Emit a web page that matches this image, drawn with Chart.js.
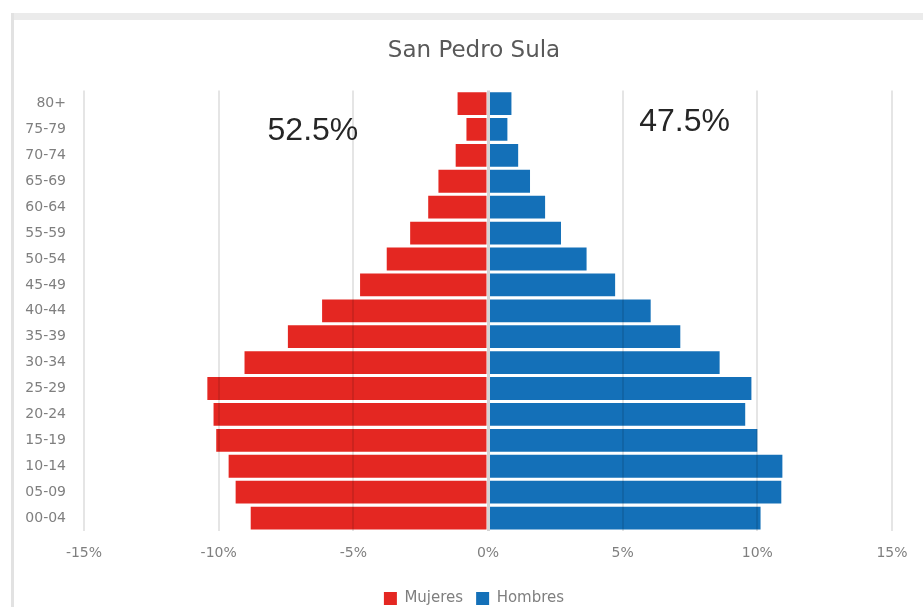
<!DOCTYPE html>
<html><head><meta charset="utf-8">
<script src="https://cdn.jsdelivr.net/npm/chart.js@4/dist/chart.umd.min.js"></script>
<style>
html,body{margin:0;padding:0;background:#fff;}
#wrap{position:relative;width:923px;height:607px;overflow:hidden;}
#frameTop{position:absolute;left:11px;top:13px;width:912px;height:7px;background:#ebebeb;}
#frameLeft{position:absolute;left:11px;top:13px;width:3px;height:594px;background:#e2e2e2;}
canvas{position:absolute;left:0;top:0;}
</style></head><body>
<div id="wrap"><div id="frameTop"></div><div id="frameLeft"></div><canvas id="c" width="923" height="607"></canvas></div>
<script>
const chartTitle = 'San Pedro Sula';
const categories = ['80+','75-79','70-74','65-69','60-64','55-59','50-54','45-49','40-44','35-39','30-34','25-29','20-24','15-19','10-14','05-09','00-04'];
const mujeres = [1.13,0.80,1.20,1.84,2.22,2.89,3.76,4.75,6.16,7.43,9.04,10.42,10.19,10.09,9.63,9.37,8.81];
const hombres = [0.87,0.72,1.12,1.56,2.12,2.71,3.66,4.72,6.04,7.14,8.60,9.78,9.55,10.00,10.93,10.89,10.12];
const seriesNames = ['Mujeres','Hombres'];
const xTickValues = [-15,-10,-5,0,5,10,15];
const shareLabels = ['52.5%','47.5%'];

const sharePlugin = {
  id: 'shares',
  afterLayout(chart) {
    // widen the y-axis label area to the left so the tick labels are not clipped
    chart.scales.y.left = 14;
  },
  afterDatasetsDraw(chart) {
    const {ctx, scales: {x, y}} = chart;
    ctx.save();
    ctx.font = '32px "Liberation Sans"';
    ctx.fillStyle = '#262626';
    ctx.textAlign = 'center';
    ctx.textBaseline = 'middle';
    ctx.fillText(shareLabels[0], x.getPixelForValue(-6.5), y.getPixelForValue(1.08));
    ctx.fillText(shareLabels[1], x.getPixelForValue(7.3), y.getPixelForValue(0.73));
    ctx.restore();
  }
};

new Chart(document.getElementById('c'), {
  type: 'bar',
  data: {
    labels: categories,
    datasets: [
      {label: seriesNames[0], data: mujeres.map(v => -v), backgroundColor: '#e42722', barPercentage: 0.88, categoryPercentage: 1.0},
      {label: seriesNames[1], data: hombres, backgroundColor: '#1470b8', barPercentage: 0.88, categoryPercentage: 1.0}
    ]
  },
  options: {
    responsive: false,
    animation: false,
    indexAxis: 'y',
    layout: {padding: {left: 56, right: 31, top: 0, bottom: -9}},
    scales: {
      x: {
        stacked: true,
        min: -15, max: 15,
        afterBuildTicks: s => { s.ticks = xTickValues.map(v => ({value: v})); },
        afterFit: s => { s.height = 47; },
        ticks: {callback: v => v + '%', color: '#7f7f7f', font: {family: 'DejaVu Sans', size: 14}, padding: 14, maxRotation: 0},
        grid: {
          z: 1,
          drawTicks: false,
          color: c => (c.tick && c.tick.value === 0) ? '#d4d4d4' : 'rgba(0,0,0,0.1)',
          lineWidth: c => (c.tick && c.tick.value === 0) ? 3 : 2
        },
        border: {display: false}
      },
      y: {
        stacked: true,
        afterFit: s => { s.width = 28; },
        ticks: {color: '#7f7f7f', font: {family: 'DejaVu Sans', size: 14}, padding: 18, autoSkip: false},
        grid: {display: false, drawTicks: false},
        border: {display: false}
      }
    },
    plugins: {
      title: {display: true, text: chartTitle, color: '#595959', font: {family: 'DejaVu Sans', size: 23, weight: 'normal'}, padding: {top: 37, bottom: 26}},
      legend: {position: 'bottom', labels: {boxWidth: 13, boxHeight: 13, color: '#7f7f7f', font: {family: 'DejaVu Sans', size: 15}, padding: 13}},
      tooltip: {enabled: false}
    }
  },
  plugins: [sharePlugin]
});
</script>
</body></html>
